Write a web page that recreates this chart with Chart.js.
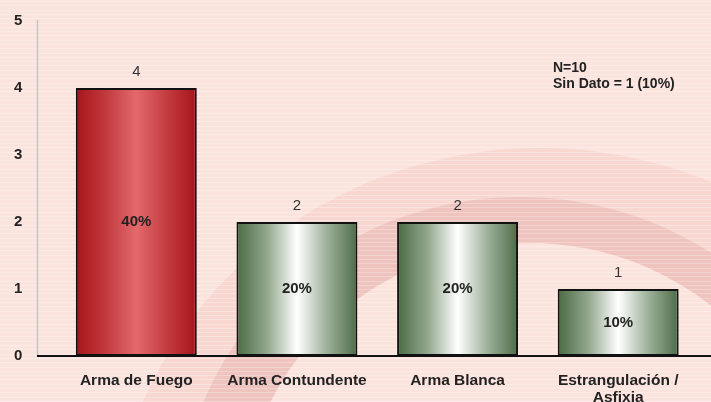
<!DOCTYPE html>
<html lang="es">
<head>
<meta charset="UTF-8">
<title>Tipo de arma</title>
<script src="https://cdn.jsdelivr.net/npm/chart.js"></script>
<style>
    html, body { margin: 0; padding: 0; background: #fce4de; }
    #wrap { width: 711px; height: 402px; position: relative; }
</style>
</head>
<body>
<div id="wrap"><canvas id="armaChart"></canvas></div>
<script>
const categorias = ['Arma de Fuego', 'Arma Contundente', 'Arma Blanca', ['Estrangulación /', 'Asfixia']];
const casos = [4, 2, 2, 1];
const porcentajes = ['40%', '20%', '20%', '10%'];
const marcasY = [0, 1, 2, 3, 4, 5];
const notas = ['N=10', 'Sin Dato = 1 (10%)'];

const FUENTE = '"Liberation Sans", Arial, sans-serif';
const ANCHO_BARRA = 0.753;

function degradado(c) {
    const chart = c.chart;
    if (!chart.chartArea) return '#b01c20';
    const x = chart.scales.x;
    const centro = x.getPixelForValue(c.dataIndex);
    const mitad = x.width / casos.length * ANCHO_BARRA / 2;
    const g = chart.ctx.createLinearGradient(centro - mitad, 0, centro + mitad, 0);
    if (c.dataIndex === 0) {
        g.addColorStop(0, '#a6151a');
        g.addColorStop(0.25, '#c23a3e');
        g.addColorStop(0.5, '#e2696c');
        g.addColorStop(0.75, '#c43c40');
        g.addColorStop(1, '#a5141a');
    } else {
        g.addColorStop(0, '#4a6a44');
        g.addColorStop(0.25, '#91a68c');
        g.addColorStop(0.5, '#ffffff');
        g.addColorStop(0.75, '#9db09a');
        g.addColorStop(1, '#4d6c47');
    }
    return g;
}

// fondo rosado con rayas y la media luna
const fondo = {
    id: 'fondo',
    beforeDraw(chart) {
        const ctx = chart.ctx;
        const w = chart.width, h = chart.height;
        ctx.save();
        ctx.fillStyle = '#fce4de';
        ctx.fillRect(0, 0, w, h);

        ctx.beginPath();
        ctx.ellipse(540, 560, 430, 412, 0, 0, Math.PI * 2);
        ctx.ellipse(520, 520, 340, 323, 0, 0, Math.PI * 2);
        ctx.fillStyle = 'rgba(236, 175, 170, 0.25)';
        ctx.fill('evenodd');

        ctx.beginPath();
        ctx.ellipse(520, 520, 340, 323, 0, 0, Math.PI * 2);
        ctx.ellipse(530, 530, 290, 287, 0, 0, Math.PI * 2);
        ctx.fillStyle = 'rgba(222, 150, 146, 0.42)';
        ctx.fill('evenodd');

        ctx.fillStyle = 'rgba(255, 255, 255, 0.28)';
        for (let y = 1; y < h; y += 4.3) {
            ctx.fillRect(0, Math.round(y), w, 1);
        }
        ctx.restore();
    }
};

const ejesYEtiquetas = {
    id: 'ejesYEtiquetas',
    afterDatasetsDraw(chart) {
        const ctx = chart.ctx;
        const area = chart.chartArea;
        ctx.save();
        // eje vertical gris
        ctx.strokeStyle = '#c4c4c4';
        ctx.lineWidth = 1.5;
        ctx.beginPath();
        ctx.moveTo(37.5, area.top - 1);
        ctx.lineTo(37.5, area.bottom);
        ctx.stroke();
        // eje horizontal negro
        ctx.strokeStyle = '#111';
        ctx.lineWidth = 2;
        ctx.beginPath();
        ctx.moveTo(37, area.bottom);
        ctx.lineTo(chart.width, area.bottom);
        ctx.stroke();

        const barras = chart.getDatasetMeta(0).data;
        ctx.textAlign = 'center';
        ctx.textBaseline = 'middle';
        barras.forEach((b, i) => {
            ctx.fillStyle = '#333';
            ctx.font = '15px ' + FUENTE;
            ctx.fillText(String(casos[i]), b.x, b.y - 16.5);
            ctx.fillStyle = '#222';
            ctx.font = 'bold 15px ' + FUENTE;
            ctx.fillText(porcentajes[i], b.x, (b.y + b.base) / 2);
        });

        ctx.textAlign = 'left';
        ctx.font = 'bold 14px ' + FUENTE;
        ctx.fillStyle = '#222';
        notas.forEach((t, i) => ctx.fillText(t, 553, 68 + i * 16.5));
        ctx.restore();
    }
};

new Chart(document.getElementById('armaChart'), {
    type: 'bar',
    data: {
        labels: categorias,
        datasets: [{
            data: casos,
            backgroundColor: degradado,
            borderColor: '#111',
            borderWidth: 2,
            borderSkipped: false,
            barPercentage: ANCHO_BARRA,
            categoryPercentage: 1
        }]
    },
    options: {
        responsive: true,
        maintainAspectRatio: false,
        animation: false,
        layout: { padding: { top: 21, right: 12.5, bottom: 0, left: 14 } },
        plugins: {
            legend: { display: false },
            tooltip: { enabled: false }
        },
        scales: {
            x: {
                grid: { display: false, drawTicks: false },
                border: { display: false },
                ticks: {
                    font: { family: FUENTE, size: 15.5, weight: 'bold', lineHeight: 1.1 },
                    color: '#222',
                    padding: 16,
                    maxRotation: 0,
                    autoSkip: false
                },
                afterFit: s => { s.height = 46; }
            },
            y: {
                min: 0,
                max: 5,
                grid: { display: false, drawTicks: false },
                border: { display: false },
                ticks: {
                    font: { family: FUENTE, size: 15, weight: 'bold' },
                    color: '#222',
                    padding: 0,
                    crossAlign: 'far'
                },
                afterBuildTicks: s => { s.ticks = marcasY.map(v => ({ value: v })); },
                afterFit: s => { s.width = 42; }
            }
        }
    },
    plugins: [fondo, ejesYEtiquetas]
});
</script>
</body>
</html>
